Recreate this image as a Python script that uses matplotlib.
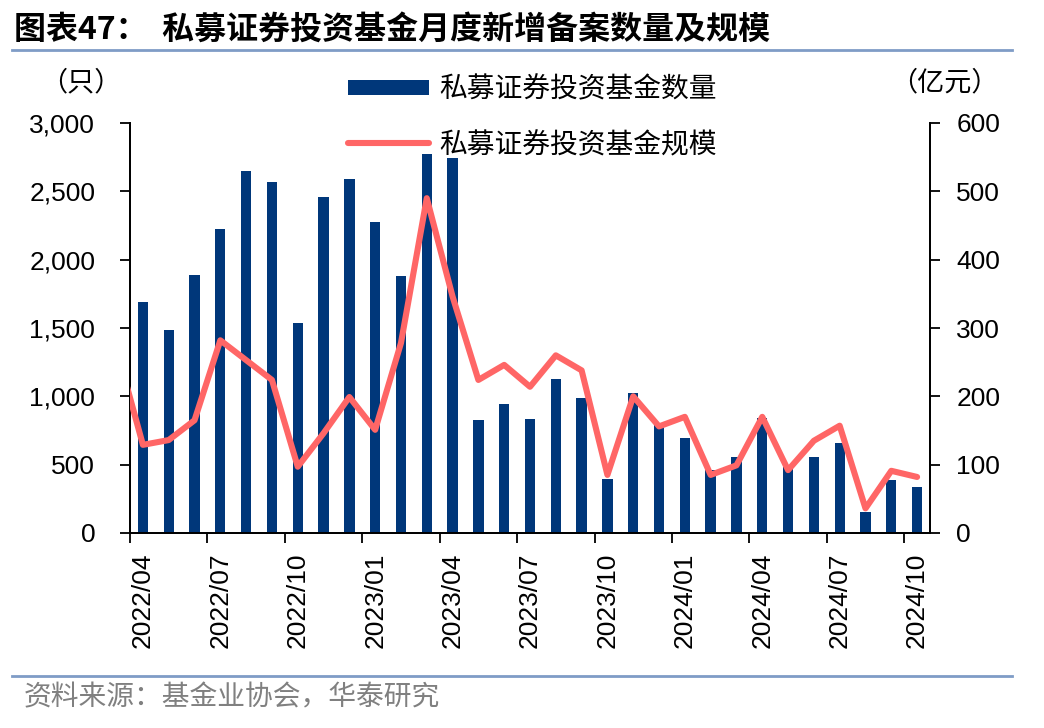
import numpy as np
import matplotlib
matplotlib.use('Agg')
import matplotlib.pyplot as plt
from matplotlib.ticker import FuncFormatter, FixedLocator

plt.rcParams['font.family'] = ['Liberation Sans', 'Noto Sans CJK SC', 'DejaVu Sans']
CJK = ['Noto Sans CJK SC', 'DejaVu Sans']

# monthly data, 2022/04 - 2024/10
months = ['2022/04', '2022/05', '2022/06', '2022/07', '2022/08', '2022/09',
          '2022/10', '2022/11', '2022/12', '2023/01', '2023/02', '2023/03',
          '2023/04', '2023/05', '2023/06', '2023/07', '2023/08', '2023/09',
          '2023/10', '2023/11', '2023/12', '2024/01', '2024/02', '2024/03',
          '2024/04', '2024/05', '2024/06', '2024/07', '2024/08', '2024/09',
          '2024/10']
fund_count = [1692, 1485, 1885, 2222, 2646, 2571, 1534, 2456, 2593, 2273,
              1880, 2771, 2744, 827, 942, 837, 1125, 985, 395, 1027,
              790, 697, 461, 556, 839, 485, 556, 656, 156, 388, 334]
fund_scale = [129, 136, 165, 282, 253, 224, 97, 146, 199, 151,
              278, 490, 346, 224, 246, 214, 260, 238, 85, 200,
              156, 170, 85, 99, 170, 92, 135, 157, 36, 91, 82]
# 2022/03 value, only its segment into the plot area shows
scale_prev = 267

BAR_COLOR = '#00377A'
LINE_COLOR = '#FF6666'
RULE_COLOR = '#7F9CC6'

fig = plt.figure(figsize=(10.44, 7.28), dpi=100)
ax = fig.add_axes([130 / 1044, 1 - 533 / 728, 800 / 1044, 410 / 728])
ax2 = ax.twinx()

x = np.arange(len(months))
ax.bar(x, fund_count, width=0.4, color=BAR_COLOR, label='私募证券投资基金数量', zorder=2)
ax2.plot(np.r_[-1, x], np.r_[scale_prev, fund_scale], color=LINE_COLOR, lw=4.4,
         solid_capstyle='round', solid_joinstyle='round',
         label='私募证券投资基金规模', zorder=3)

ax.set_xlim(-0.5, len(months) - 0.5)
ax.set_ylim(0, 3000)
ax2.set_ylim(0, 600)
ax.set_yticks(np.arange(0, 3001, 500))
ax2.set_yticks(np.arange(0, 601, 100))
ax.yaxis.set_major_formatter(FuncFormatter(lambda v, p: f'{int(v):,}'))

# labels sit on the month, tick marks at the month boundary
lab_idx = list(range(0, len(months), 3))
ax.set_xticks(lab_idx)
ax.set_xticklabels([months[i] for i in lab_idx], rotation=90, fontsize=19)
ax.tick_params(axis='x', which='major', length=0, pad=14)
ax.xaxis.set_minor_locator(FixedLocator([i - 0.5 for i in lab_idx]))
ax.tick_params(axis='x', which='minor', length=7, width=1.3, direction='out')

ax.tick_params(axis='y', labelsize=19, length=7, width=1.3, pad=18)
ax2.tick_params(axis='y', labelsize=19, length=7, width=1.3, pad=12)

for a in (ax, ax2):
    a.spines['top'].set_visible(False)
    for s in ('left', 'right', 'bottom'):
        a.spines[s].set_linewidth(1.3)
ax.patch.set_visible(False)

# legend, drawn as two single entries
h1, l1 = ax.get_legend_handles_labels()
h2, l2 = ax2.get_legend_handles_labels()
leg_kw = dict(frameon=False, prop={'family': CJK, 'size': 20}, handlelength=2.9,
              handletextpad=0.4, borderpad=0.4)
fig.legend(h1, l1, loc='center left', bbox_to_anchor=(323 / 1044, 1 - 89 / 728),
           handleheight=0.45, **leg_kw)
fig.legend(h2, l2, loc='center left', bbox_to_anchor=(323 / 1044, 1 - 145 / 728), **leg_kw)

fig.text(81 / 1044, 1 - 83 / 728, '（只）', family=CJK, fontsize=19.5, ha='center', va='center')
fig.text(944 / 1044, 1 - 83 / 728, '（亿元）', family=CJK, fontsize=19.5, ha='center', va='center')

# title, rules and source
fig.text(14 / 1044, 1 - 30 / 728, '图表47：  私募证券投资基金月度新增备案数量及规模',
         family=CJK, fontsize=23, fontweight='bold', ha='left', va='center')
fig.add_artist(plt.Line2D([12 / 1044, 1012 / 1044], [1 - 50 / 728] * 2, color=RULE_COLOR, lw=2))
fig.add_artist(plt.Line2D([12 / 1044, 1012 / 1044], [1 - 676 / 728] * 2, color=RULE_COLOR, lw=2))
fig.text(24 / 1044, 1 - 697 / 728, '资料来源：基金业协会，华泰研究', family=CJK,
         fontsize=20, color='#808080', ha='left', va='center')

fig.savefig('out.png', dpi=100)
